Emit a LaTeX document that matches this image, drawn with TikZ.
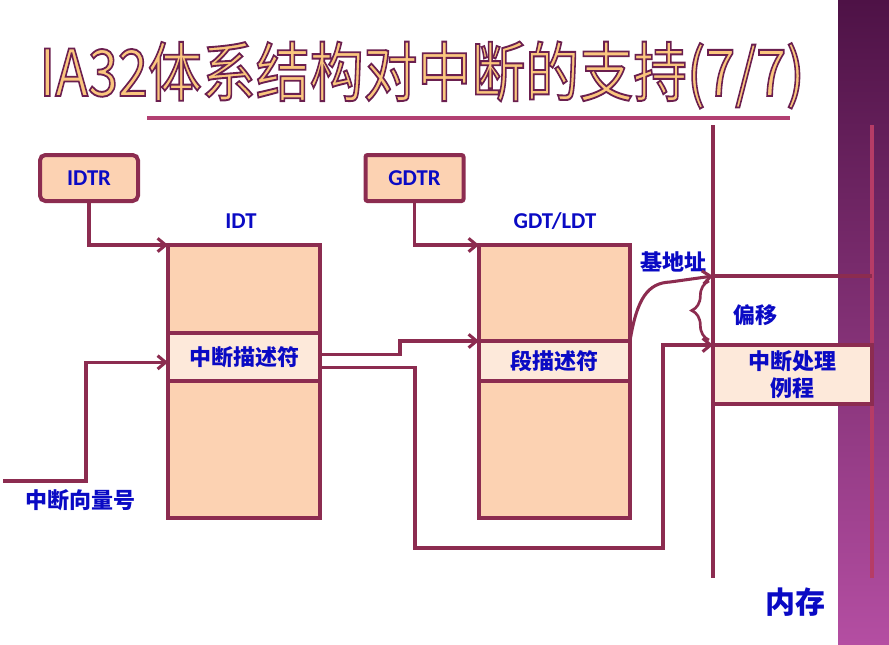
\documentclass[tikz,border=0pt]{standalone}
\usepackage{fontspec}
\usepackage{graphicx}
\setmainfont{Carlito}
\newfontfamily\cjk{Noto Sans CJK SC}
\usepackage{tikz}
\usepackage{xcolor}
\usetikzlibrary{positioning, arrows.meta, decorations.pathreplacing}

\definecolor{wine}{RGB}{140,44,80}
\definecolor{peach}{RGB}{252,210,178}
\definecolor{peachlt}{RGB}{253,233,218}
\definecolor{lblblue}{RGB}{10,10,196}
\definecolor{bandtop}{RGB}{78,18,70}
\definecolor{bandbot}{RGB}{180,78,162}
\definecolor{bandline}{RGB}{182,60,102}
\definecolor{rulecol}{RGB}{178,64,114}
\definecolor{titlefill}{RGB}{250,198,126}

\newcommand{\outlined}[1]{\special{pdf:literal direct 2 Tr 1.1 w 0.42 0.12 0.31 RG}#1\special{pdf:literal direct 0 Tr}}

\begin{document}
\begin{tikzpicture}[x=0.75pt, y=-0.75pt,
    reg/.style={draw=wine, line width=3pt, fill=peach, rounded corners=4pt, minimum width=73.5pt, minimum height=34.5pt, text=lblblue, font=\bfseries\fontsize{17}{20}\selectfont},
    tbl/.style={draw=wine, line width=3pt, fill=peach, minimum width=114pt, inner sep=0pt, outer sep=0pt},
    row/.style={tbl, fill=peachlt, text=lblblue, font=\cjk\bfseries\fontsize{16.5}{20}\selectfont},
    lbl/.style={text=lblblue, font=\bfseries\fontsize{17}{20}\selectfont},
    cjklbl/.style={text=lblblue, font=\cjk\bfseries\fontsize{16.5}{20}\selectfont},
    conn/.style={draw=wine, line width=2.3pt, -{Straight Barb[length=6pt, width=10pt]}},
    wire/.style={draw=wine, line width=2.3pt}]
        \useasboundingbox (0,0) rectangle (889,644);
        \shade[top color=bandtop, bottom color=bandbot] (838,0) rectangle (889,644);
        \draw[bandline, line width=2.4pt] (872,125) -- (872,578);

        \node (title) at (422,75) {\color{titlefill}\resizebox{573.75pt}{!}{\scalebox{1}[1.2]{\cjk\fontsize{38}{40}\selectfont\outlined{IA32体系结构对中断的支持(7/7)}}}};
        \draw[rulecol, line width=3pt] (147,118) -- (790,118);

        \node[reg] (idtr) at (89,178) {IDTR};
        \node[reg, rounded corners=1.5pt] (gdtr) at (414.5,178) {GDTR};
        \node[lbl] (idtLbl) at (241,221) {IDT};
        \node[lbl] (gdtLbl) at (555,221) {GDT/LDT};

        \node[tbl, minimum height=66pt] (idtTop) at (244,289) {};
        \node[row, minimum height=36pt, below=0pt of idtTop] (idtDesc) {中断描述符};
        \node[tbl, minimum height=102.75pt, below=0pt of idtDesc] (idtBot) {};

        \node[tbl, minimum width=113.25pt, minimum height=72pt] (gdtTop) at (554.5,293) {};
        \node[row, minimum width=113.25pt, minimum height=30pt, below=0pt of gdtTop] (gdtDesc) {段描述符};
        \node[tbl, minimum width=113.25pt, minimum height=102.75pt, below=0pt of gdtDesc] (gdtBot) {};

        \coordinate (memTop) at (713,125);
        \coordinate (memBot) at (713,578);
        \coordinate (base) at (713,276);
        \coordinate (baseEnd) at (872,276);
        \draw[wire] (memTop) -- (memBot);
        \draw[wire] (base) -- (baseEnd);
        \node[row, minimum width=119.25pt, minimum height=44.25pt, align=center] (routine) at (792.5,374.5) {中断处理\\例程};

        \node[cjklbl] (baseLbl) at (673,262) {基地址};
        \node[cjklbl] (offLbl) at (755,315) {偏移};
        \node[cjklbl, font=\cjk\bfseries\fontsize{22.5}{24}\selectfont] (memLbl) at (795,602) {内存};
        \node[cjklbl] (vecLbl) at (80,500) {中断向量号};

        \coordinate (vec) at (3,481);
        \coordinate (braceLow) at (709,340);
        \coordinate (braceHigh) at (709,281);

        \draw[conn] (idtr.south) |- (idtTop.north west);
        \draw[conn] (gdtr.south) |- (gdtTop.north west);
        \draw[conn] (vec) -- ++(83,0) |- (idtDesc.184);
        \draw[conn] (idtDesc.2) -- ++(80,0) |- (gdtDesc.north west);
        \draw[conn] (idtDesc.-8) -| (415,548) -| (663,400) |- (routine.north west);
        \draw[conn] (gdtDesc.north east) .. controls (637,298) and (648,283) .. (670,282) -- (base);
        \draw[wire, line width=2pt, decorate, decoration={brace, amplitude=13pt}] (braceLow) -- (braceHigh);
    \end{tikzpicture}
\end{document}
